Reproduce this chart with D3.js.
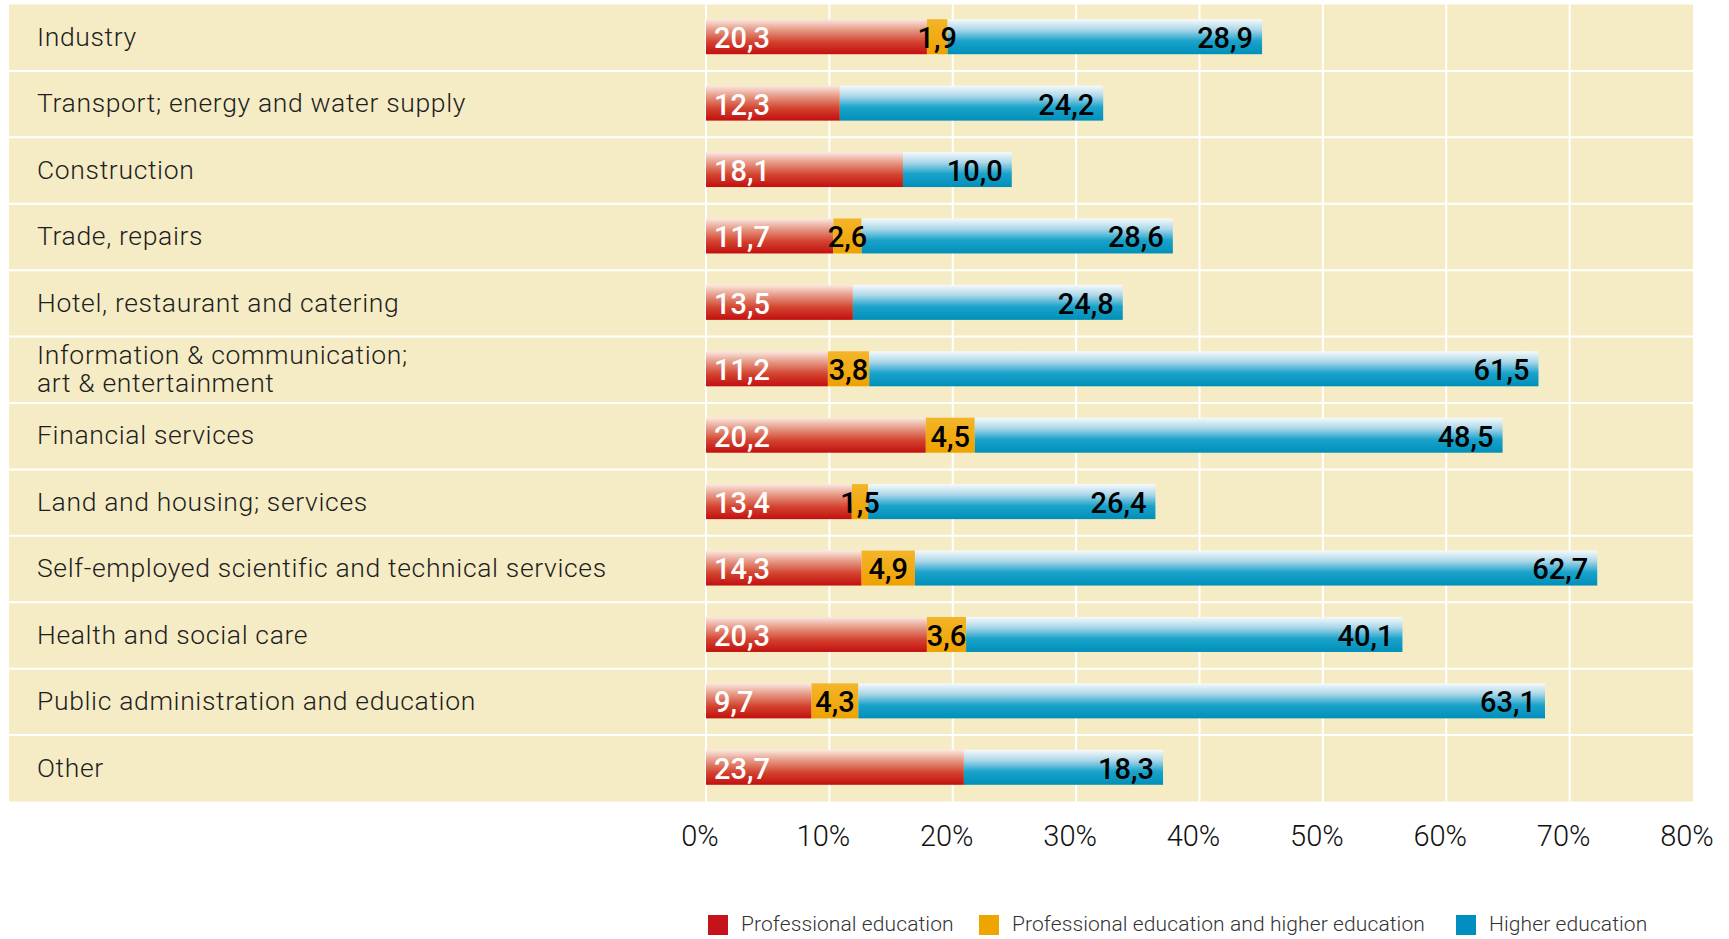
<!DOCTYPE html>
<html>
<head>
<meta charset="utf-8">
<script src="https://cdn.jsdelivr.net/npm/d3@7"></script>
<style>
    body { margin: 0; background: #fff; }
    svg { display: block; font-family: Roboto, "Open Sans", sans-serif; }
</style>
</head>
<body>
<svg id="chart" width="1729" height="939"></svg>
<script>
const categories = [
    "Industry",
    "Transport; energy and water supply",
    "Construction",
    "Trade, repairs",
    "Hotel, restaurant and catering",
    "Information & communication;\nart & entertainment",
    "Financial services",
    "Land and housing; services",
    "Self-employed scientific and technical services",
    "Health and social care",
    "Public administration and education",
    "Other"
];
const professional = [20.3, 12.3, 18.1, 11.7, 13.5, 11.2, 20.2, 13.4, 14.3, 20.3, 9.7, 23.7];
const profAndHigher = [1.9, 0, 0, 2.6, 0, 3.8, 4.5, 1.5, 4.9, 3.6, 4.3, 0];
const higher = [28.9, 24.2, 10.0, 28.6, 24.8, 61.5, 48.5, 26.4, 62.7, 40.1, 63.1, 18.3];
const axisTicks = [0, 10, 20, 30, 40, 50, 60, 70, 80];
const seriesNames = ["Professional education", "Professional education and higher education", "Higher education"];

const fmt = v => v.toFixed(1).replace(".", ",");

function drawChart() {
    const svg = d3.select("#chart");

    const area = { left: 9, right: 1693, top: 4.5, bottom: 801.5, plotX: 706 };

    // the source draws the bars a bit shorter than the gridlines say,
    // so bars get their own scale over the same pixel range
    const scGrid = d3.scaleLinear().domain([0, 80]).range([area.plotX, area.right]);
    const scBar = d3.scaleLinear().domain([0, 90.7]).range([area.plotX, area.right]);
    const scY = d3.scaleBand().domain(d3.range(categories.length)).range([area.top, area.bottom]);
    const barH = 35;

    const defs = svg.append("defs");
    const grad = (id, stops) => {
        const g = defs.append("linearGradient").attr("id", id)
            .attr("x1", 0).attr("y1", 0).attr("x2", 0).attr("y2", 1);
        stops.forEach(s => g.append("stop").attr("offset", s[0]).attr("stop-color", s[1]));
    };
    grad("gRed", [[0, "#fbe9e2"], [0.3, "#e69a86"], [0.65, "#d3432f"], [1, "#c20f0f"]]);
    grad("gOrange", [[0, "#f3b52a"], [1, "#eea200"]]);
    grad("gBlue", [[0, "#f6fafc"], [0.3, "#acd7e9"], [0.62, "#1aa3cb"], [1, "#008fb9"]]);

    // panel
    svg.append("rect")
        .attr("x", area.left).attr("y", area.top)
        .attr("width", area.right - area.left).attr("height", area.bottom - area.top)
        .attr("fill", "#f5ecc5");

    svg.append("g").selectAll("line")
        .data(axisTicks.slice(0, -1))
        .join("line")
        .attr("x1", d => scGrid(d)).attr("x2", d => scGrid(d))
        .attr("y1", area.top).attr("y2", area.bottom)
        .attr("stroke", "#fff").attr("stroke-width", 2);

    svg.append("g").selectAll("line")
        .data(d3.range(1, categories.length))
        .join("line")
        .attr("x1", area.left).attr("x2", area.right)
        .attr("y1", d => scY(d)).attr("y2", d => scY(d))
        .attr("stroke", "#fff").attr("stroke-width", 2);

    // category labels
    const labels = svg.append("g").selectAll("text")
        .data(categories)
        .join("text")
        .attr("x", 37)
        .attr("y", (d, i) => scY(i) + scY.bandwidth() / 2 - 1)
        .attr("font-size", 26.5)
        .attr("font-weight", 300)
        .attr("letter-spacing", 0.65)
        .attr("fill", "#1e1e1e");
    labels.each(function(d) {
        const lines = d.split("\n");
        const t = d3.select(this);
        lines.forEach((ln, k) => {
            t.append("tspan")
                .attr("x", 37)
                .attr("dy", k === 0 ? (lines.length === 1 ? "0.35em" : `${0.35 - 0.52}em`) : "1.05em")
                .text(ln);
        });
    });

    // stacked bars
    const rows = categories.map((c, i) => ({
        i: i,
        segs: [
            { key: "red", v: professional[i], x0: 0, x1: professional[i] },
            { key: "orange", v: profAndHigher[i], x0: professional[i], x1: professional[i] + profAndHigher[i] },
            { key: "blue", v: higher[i], x0: professional[i] + profAndHigher[i], x1: professional[i] + profAndHigher[i] + higher[i] }
        ]
    }));
    const fills = { red: "url(#gRed)", orange: "url(#gOrange)", blue: "url(#gBlue)" };

    const rowG = svg.append("g").selectAll("g")
        .data(rows)
        .join("g")
        .attr("transform", d => `translate(0, ${scY(d.i) + scY.bandwidth() / 2 - barH / 2 - 1})`);

    rowG.selectAll("rect")
        .data(d => d.segs.filter(s => s.v > 0))
        .join("rect")
        .attr("x", s => scBar(s.x0))
        .attr("width", s => scBar(s.x1) - scBar(s.x0))
        .attr("y", 0)
        .attr("height", barH)
        .attr("fill", s => fills[s.key]);

    rowG.selectAll("text")
        .data(d => d.segs.filter(s => s.v > 0))
        .join("text")
        .attr("x", s => s.key === "red" ? scBar(s.x0) + 8
            : s.key === "orange" ? (scBar(s.x0) + scBar(s.x1)) / 2
            : scBar(s.x1) - 9)
        .attr("text-anchor", s => s.key === "red" ? "start" : s.key === "orange" ? "middle" : "end")
        .attr("y", barH / 2 + 1)
        .attr("dy", "0.36em")
        .attr("font-size", 29)
        .attr("font-weight", 500)
        .attr("fill", s => s.key === "red" ? "#fff" : "#000")
        .text(s => fmt(s.v));

    // axis labels
    svg.append("g").selectAll("text")
        .data(axisTicks)
        .join("text")
        .attr("x", d => scGrid(d) - 6)
        .attr("y", 836)
        .attr("dy", "0.35em")
        .attr("text-anchor", "middle")
        .attr("font-size", 29)
        .attr("font-weight", 300)
        .attr("fill", "#111")
        .text(d => d + "%");

    // legend
    const legendColors = ["#c4131a", "#efa500", "#008fc0"];
    const legendX = [708, 979, 1456];
    const lg = svg.append("g").selectAll("g")
        .data(seriesNames)
        .join("g")
        .attr("transform", (d, i) => `translate(${legendX[i]}, 915)`);
    lg.append("rect")
        .attr("width", 20).attr("height", 20)
        .attr("fill", (d, i) => legendColors[i]);
    lg.append("text")
        .attr("x", 33).attr("y", 9)
        .attr("dy", "0.35em")
        .attr("font-size", 21)
        .attr("font-weight", 300)
        .attr("letter-spacing", 0.1)
        .attr("fill", "#333")
        .text(d => d);
}

document.addEventListener("DOMContentLoaded", drawChart);
</script>
</body>
</html>
